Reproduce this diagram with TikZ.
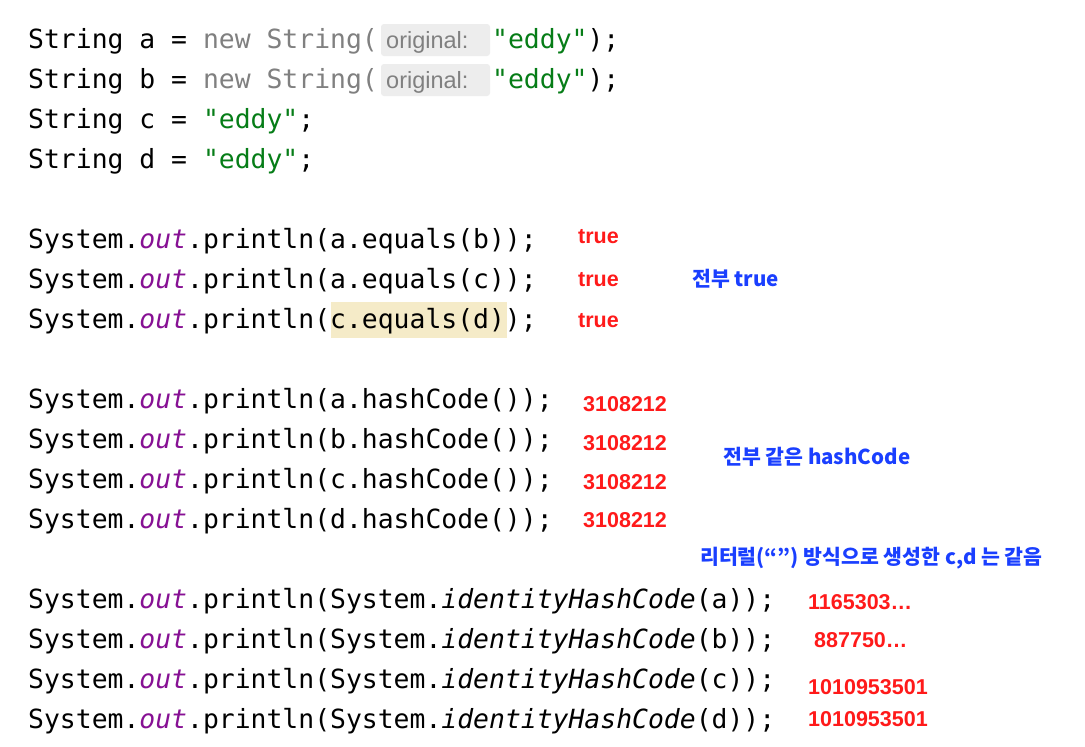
\documentclass[tikz,border=0pt]{standalone}
\usepackage{fontspec}
\setmonofont{DejaVu Sans Mono}
\newfontfamily\kr{Noto Sans CJK KR}
\newfontfamily\lab{Liberation Sans}
\definecolor{kw}{HTML}{808080}
\definecolor{str}{HTML}{067D17}
\definecolor{fld}{HTML}{871094}
\definecolor{hl}{HTML}{F5EBC8}
\definecolor{hintbg}{HTML}{EDEDED}
\definecolor{red1}{HTML}{FF1A1A}
\definecolor{blue1}{HTML}{1A3FFF}
\newcommand{\myout}{\textcolor{fld}{\textit{out}}}
\newcommand{\mystr}[1]{\textcolor{str}{#1}}
\begin{document}
\begin{tikzpicture}[x=1pt,y=-1pt,
 code/.style={anchor=base west,inner sep=0,font=\ttfamily\fontsize{26.4}{30}\selectfont},
 res/.style={anchor=base west,inner sep=0,text=red1,font=\lab\bfseries\fontsize{21.5}{24}\selectfont},
 note/.style={anchor=base west,inner sep=0,text=blue1,font=\kr\bfseries\fontsize{20.5}{24}\selectfont}]
\useasboundingbox[fill=white] (0,0) rectangle (1085,747);
\fill[hl] (331,302) rectangle (507,338);
\fill[hintbg,rounded corners=3] (381,24) rectangle (490,56);
\fill[hintbg,rounded corners=3] (381,64) rectangle (490,96);
\node[anchor=base west,inner sep=0,text=kw,font=\lab\fontsize{23.5}{26}\selectfont] (h1) at (386,48) {original:};
\node[anchor=base west,inner sep=0,text=kw,font=\lab\fontsize{23.5}{26}\selectfont] (h2) at (386,88) {original:};
\node[code] (l1) at (28,48) {String a = \textcolor{kw}{new String(}};
\node[code] (l1b) at (492,48) {\mystr{"eddy"});};
\node[code] (l2) at (28,88) {String b = \textcolor{kw}{new String(}};
\node[code] (l2b) at (492,88) {\mystr{"eddy"});};
\node[code] (l3) at (28,128) {String c = \mystr{"eddy"};};
\node[code] (l4) at (28,168) {String d = \mystr{"eddy"};};
\node[code] (l5) at (28,248) {System.\myout.println(a.equals(b));};
\node[code] (l6) at (28,288) {System.\myout.println(a.equals(c));};
\node[code] (l7) at (28,328) {System.\myout.println(c.equals(d));};
\node[code] (l8) at (28,408) {System.\myout.println(a.hashCode());};
\node[code] (l9) at (28,448) {System.\myout.println(b.hashCode());};
\node[code] (l10) at (28,488) {System.\myout.println(c.hashCode());};
\node[code] (l11) at (28,528) {System.\myout.println(d.hashCode());};
\node[code] (l12) at (28,608) {System.\myout.println(System.\textit{identityHashCode}(a));};
\node[code] (l13) at (28,648) {System.\myout.println(System.\textit{identityHashCode}(b));};
\node[code] (l14) at (28,688) {System.\myout.println(System.\textit{identityHashCode}(c));};
\node[code] (l15) at (28,728) {System.\myout.println(System.\textit{identityHashCode}(d));};
\node[res] (r1) at (578,243) {true};
\node[res] (r2) at (578,286) {true};
\node[res] (r3) at (578,327) {true};
\node[note] (n1) at (692,286) {전부 true};
\node[res] (r4) at (583,411) {3108212};
\node[res] (r5) at (583,450) {3108212};
\node[res] (r6) at (583,489) {3108212};
\node[res] (r7) at (583,527) {3108212};
\node[note] (n2) at (723,464) {전부 같은 hashCode};
\node[note] (n3) at (700,564) {리터럴(“”) 방식으로 생성한 c,d 는 같음};
\node[res] (r8) at (808,609) {1165303…};
\node[res] (r9) at (814,647) {887750…};
\node[res] (r10) at (808,694) {1010953501};
\node[res] (r11) at (808,726) {1010953501};
\end{tikzpicture}
\end{document}
